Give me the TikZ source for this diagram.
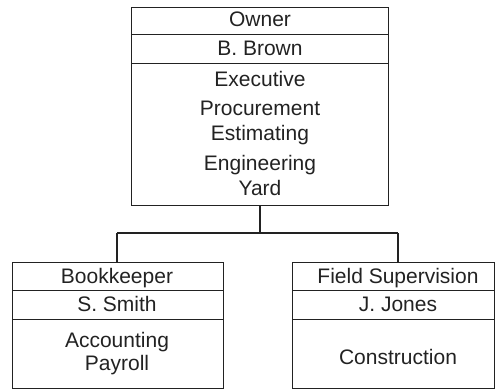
\documentclass[tikz,border=0pt]{standalone}
\usepackage{fontspec}
\setmainfont{Liberation Sans}
\definecolor{ink}{HTML}{222222}
\begin{document}
\begin{tikzpicture}[x=1pt,y=1pt,
  cell/.style={draw=ink, line width=1.3pt, inner sep=0pt},
  lbl/.style={anchor=base, inner sep=0pt, text=ink,
    font=\fontsize{21}{24}\selectfont},
  wire/.style={draw=ink, line width=1.3pt}]
\useasboundingbox (0,0) rectangle (495,389);

% owner box: title, name, duties
\node[cell, minimum width=257pt, minimum height=27pt, anchor=north west] (ownT) at (131,382) {};
\node[cell, minimum width=257pt, minimum height=29pt, anchor=north west] (ownN) at (131,355) {};
\node[cell, minimum width=257pt, minimum height=142pt, anchor=north west] (ownD) at (131,326) {};
\node[lbl] (t1) at (260,362) {Owner};
\node[lbl] (t2) at (260,333) {B. Brown};
\node[lbl] (t3) at (260,302) {Executive};
\node[lbl] (t4) at (260,273) {Procurement};
\node[lbl] (t5) at (260,249) {Estimating};
\node[lbl] (t6) at (260,219) {Engineering};
\node[lbl] (t7) at (260,194) {Yard};

% bookkeeper box
\node[cell, minimum width=211pt, minimum height=28pt, anchor=north west] (bkT) at (12,127) {};
\node[cell, minimum width=211pt, minimum height=29pt, anchor=north west] (bkN) at (12,99) {};
\node[cell, minimum width=211pt, minimum height=69pt, anchor=north west] (bkD) at (12,70) {};
\node[lbl] (b1) at (117,106) {Bookkeeper};
\node[lbl] (b2) at (117,78) {S. Smith};
\node[lbl] (b3) at (117,42) {Accounting};
\node[lbl] (b4) at (117,19) {Payroll};

% field supervision box
\node[cell, minimum width=202pt, minimum height=28pt, anchor=north west] (fsT) at (292,127) {};
\node[cell, minimum width=202pt, minimum height=29pt, anchor=north west] (fsN) at (292,99) {};
\node[cell, minimum width=202pt, minimum height=69pt, anchor=north west] (fsD) at (292,70) {};
\node[lbl] (f1) at (398,106) {Field Supervision};
\node[lbl] (f2) at (398,78) {J. Jones};
\node[lbl] (f3) at (398,25) {Construction};

% reporting lines
\coordinate (busL) at (117,156);
\coordinate (busM) at (260,156);
\coordinate (busR) at (398,156);
\draw[wire] (ownD.south -| busM) -- (busM);
\draw[wire] (busL) -- (busR);
\draw[wire] (busL) -- (bkT.north -| busL);
\draw[wire] (busR) -- (fsT.north -| busR);
\end{tikzpicture}
\end{document}
